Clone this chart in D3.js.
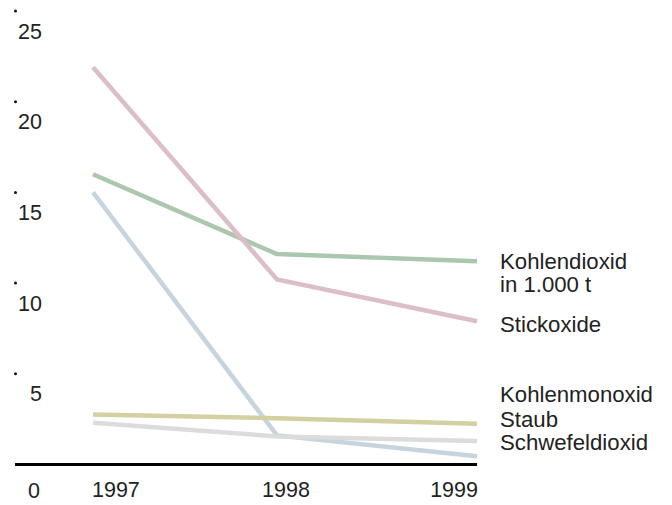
<!DOCTYPE html>
<html>
<head>
<meta charset="utf-8">
<script src="https://cdn.jsdelivr.net/npm/d3@7"></script>
<style>
  html, body { margin: 0; padding: 0; background: #fff; }
  svg { display: block; }
  text { font-family: "Liberation Sans", Arial, sans-serif; fill: #222; }
</style>
</head>
<body>
<svg id="chart" width="672" height="505"></svg>
<script>
// Emissionen 1997–1999
const years = [1997, 1998, 1999];
const seriesNames = ["Kohlendioxid", "Stickoxide", "Kohlenmonoxid", "Staub", "Schwefeldioxid"];
const seriesLabels = [["Kohlendioxid", "in 1.000 t"], ["Stickoxide"], ["Kohlenmonoxid"], ["Staub"], ["Schwefeldioxid"]];
const kohlendioxid   = [16.0, 11.6, 11.2];
const stickoxide     = [21.9, 10.2, 7.9];
const kohlenmonoxid  = [15.0, 1.6, 0.45];
const staub          = [2.75, 2.55, 2.25];
const schwefeldioxid = [2.3, 1.55, 1.3];
const yTicks = [5, 10, 15, 20, 25];
const seriesColors = ["#abc7ad", "#dbbec8", "#c6d4de", "#d3d0a2", "#dcdcdc"];

const values = [kohlendioxid, stickoxide, kohlenmonoxid, staub, schwefeldioxid];

const svg = d3.select("#chart");

const x = d3.scaleLinear().domain(years).range([93, 277, 477]);
const y = d3.scaleLinear().domain([0, 25]).range([464.5, 11]);

// value ticks: a small dot with the number below it
const tick = svg.append("g").selectAll("g").data(yTicks).join("g")
  .attr("transform", d => `translate(0,${y(d)})`);
tick.append("circle").attr("cx", 15.5).attr("r", 1.5).attr("fill", "#111");
tick.append("text").attr("x", 42).attr("y", 27.5)
  .attr("text-anchor", "end").attr("font-size", 21.5).text(d => d);

svg.append("text").attr("x", 40).attr("y", y(0) + 33.5)
  .attr("text-anchor", "end").attr("font-size", 21.5).text("0");

// series lines
const line = d3.line().x((d, i) => x(years[i])).y(d => y(d));
svg.append("g").selectAll("path").data(values).join("path")
  .attr("d", line)
  .attr("fill", "none")
  .attr("stroke", (d, i) => seriesColors[i])
  .attr("stroke-width", 4.5)
  .attr("stroke-linejoin", "miter");

// baseline
svg.append("line")
  .attr("x1", 15).attr("x2", x(1999))
  .attr("y1", y(0)).attr("y2", y(0))
  .attr("stroke", "#000").attr("stroke-width", 3);

// year labels
const anchors = ["start", "middle", "end"];
const shifts = [-1, 9, 1];
svg.append("g").selectAll("text").data(years).join("text")
  .attr("x", (d, i) => x(d) + shifts[i])
  .attr("y", y(0) + 32.5)
  .attr("text-anchor", (d, i) => anchors[i])
  .attr("font-size", 21.5)
  .text(d => d);

// series labels at the right
const lineH = 23.5;
const items = seriesNames.map((name, i) => ({
  i, lines: seriesLabels[i], yc: y(values[i][2])
}));
// top two follow their line end; the three small series are stacked above the baseline
const pos = [];
pos[0] = items[0].yc + 7.5;
pos[1] = items[1].yc + 11;
const bottom = 450;
pos[4] = bottom;
pos[3] = bottom - lineH;
pos[2] = bottom - 2 * lineH - 1.5;

const lbl = svg.append("g").selectAll("text").data(items).join("text")
  .attr("x", 500)
  .attr("y", d => pos[d.i])
  .attr("font-size", 22.2);
lbl.selectAll("tspan").data(d => d.lines).join("tspan")
  .attr("x", 500)
  .attr("dy", (d, j) => j === 0 ? 0 : lineH)
  .text(d => d);
</script>
</body>
</html>
